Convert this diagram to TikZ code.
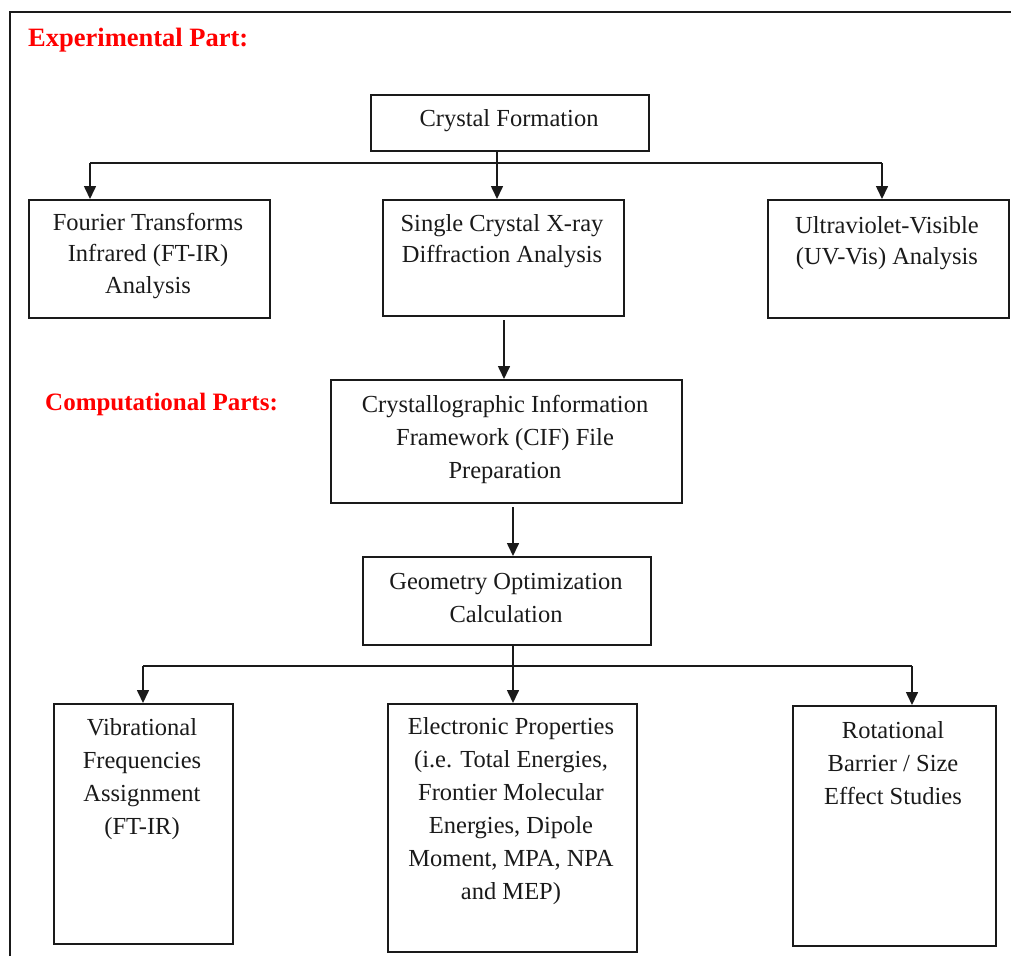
\documentclass[tikz,border=0pt]{standalone}
\usepackage{fontspec}
\setmainfont{Liberation Serif}
\usetikzlibrary{arrows.meta}
\definecolor{txt}{HTML}{1A1A1A}
\definecolor{lab}{HTML}{FF0000}
\begin{document}
\begin{tikzpicture}[x=1pt,y=-1pt,
  box/.style={draw=txt, line width=1.6pt, inner sep=0pt, anchor=north west},
  tx/.style={text=txt, align=center, inner sep=0pt, font=\fontsize{24.5}{33}\selectfont},
  lbl/.style={text=lab, anchor=west, inner sep=0pt, font=\fontsize{25}{30}\selectfont\bfseries},
  conn/.style={draw=txt, line width=1.6pt},
  arr/.style={conn, -{Triangle[width=12pt,length=13pt]}}]
\useasboundingbox (0,0) rectangle (1011,956);
% outer frame (left and top only visible)
\draw[draw=txt, line width=2.6pt] (10,956) -- (10,12) -- (1011,12);
% labels
\node[lbl, font=\fontsize{26.5}{30}\selectfont\bfseries] (expl) at (28,40) {Experimental Part:};
\node[lbl] (compl) at (45,404) {Computational Parts:};
% boxes
\node[box, minimum width=278, minimum height=56] (cf) at (370,94) {};
\node[tx] (cft) at (509,121) {Crystal Formation};
\node[box, minimum width=241, minimum height=118] (ft) at (28,199) {};
\node[tx, font=\fontsize{24.5}{31.5}\selectfont] (ftt) at (148,256) {Fourier Transforms\\Infrared (FT-IR)\\Analysis};
\node[box, minimum width=241, minimum height=116] (sx) at (382,199) {};
\node[tx, font=\fontsize{24.5}{31.5}\selectfont] (sxt) at (502,241) {Single Crystal X-ray\\Diffraction Analysis};
\node[box, minimum width=241, minimum height=118] (uv) at (767,199) {};
\node[tx, font=\fontsize{24.5}{31.5}\selectfont] (uvt) at (887,243) {Ultraviolet-Visible\\(UV-Vis) Analysis};
\node[box, minimum width=351, minimum height=123] (cif) at (330,379) {};
\node[tx] (cift) at (505,439) {Crystallographic Information\\Framework (CIF) File\\Preparation};
\node[box, minimum width=288, minimum height=88] (go) at (362,556) {};
\node[tx] (got) at (506,598) {Geometry Optimization\\Calculation};
\node[box, minimum width=179, minimum height=240] (vf) at (53,703) {};
\node[tx] (vft) at (142,779) {Vibrational\\Frequencies\\Assignment\\(FT-IR)};
\node[box, minimum width=249, minimum height=248] (ep) at (387,703) {};
\node[tx] (ept) at (511,811) {Electronic Properties\\(i.e. Total Energies,\\Frontier Molecular\\Energies, Dipole\\Moment, MPA, NPA\\and MEP)};
\node[box, minimum width=203, minimum height=240] (rb) at (792,705) {};
\node[tx] (rbt) at (893,763) {Rotational\\Barrier / Size\\Effect Studies};
% connectors top
\coordinate (j1) at (497,163);
\coordinate (jl) at (90,163);
\coordinate (jr) at (882,163);
\draw[conn] (cf.south -| j1) -- (j1);
\draw[conn] (jl) -- (jr);
\draw[arr] (jl) -- (jl |- ft.north);
\draw[arr] (j1) -- (j1 |- sx.north);
\draw[arr] (jr) -- (jr |- uv.north);
% middle
\coordinate (a1) at (504,320);
\draw[arr] (a1) -- (a1 |- cif.north);
\coordinate (a2) at (513,507);
\draw[arr] (a2) -- (a2 |- go.north);
% bottom
\coordinate (j2) at (513,666);
\coordinate (kl) at (143,666);
\coordinate (kr) at (912,666);
\draw[conn] (go.south -| j2) -- (j2);
\draw[conn] (kl) -- (kr);
\draw[arr] (kl) -- (kl |- vf.north);
\draw[arr] (j2) -- (j2 |- ep.north);
\draw[arr] (kr) -- (kr |- rb.north);
\end{tikzpicture}
\end{document}
